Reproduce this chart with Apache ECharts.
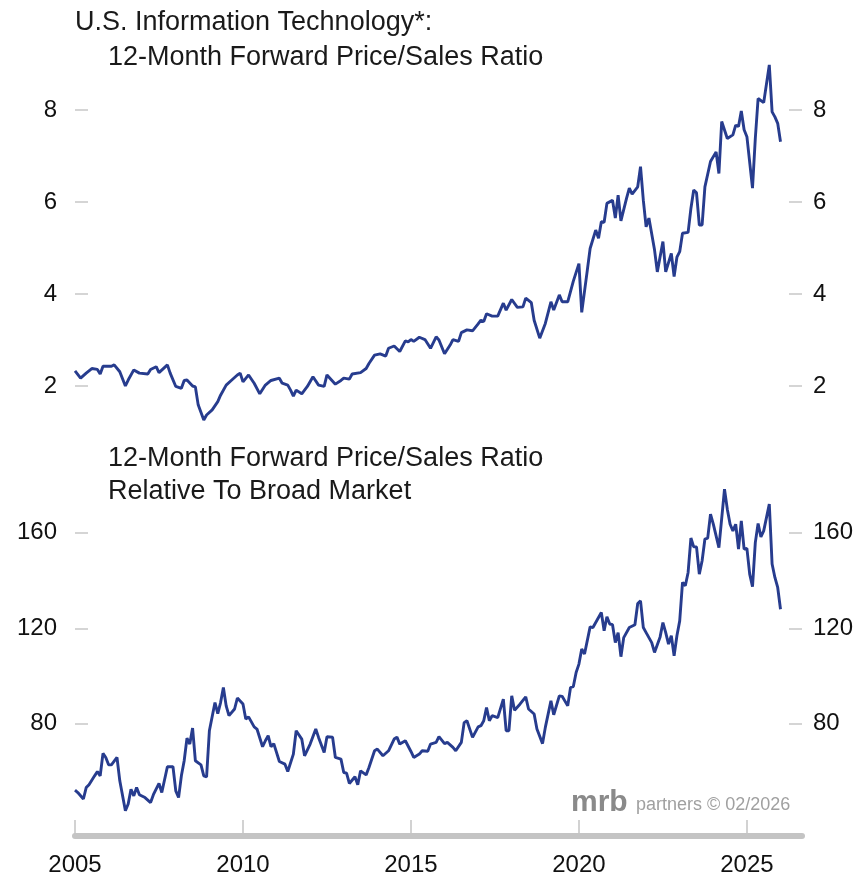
<!DOCTYPE html>
<html>
<head>
<meta charset="utf-8">
<title>U.S. Information Technology P/S</title>
<script src="https://cdn.jsdelivr.net/npm/echarts@6/dist/echarts.min.js"></script>
<style>
  html, body { margin: 0; padding: 0; background: #fff; }
  #chart { width: 863px; height: 882px; }
</style>
</head>
<body>
<div id="chart"></div>
<script>
// 12-month forward price/sales ratio, US IT sector
var topDates = [
  '2005-01','2005-03','2005-05','2005-07','2005-09','2005-10','2005-11',
  '2006-02','2006-03','2006-05','2006-07','2006-08','2006-10','2006-12',
  '2007-03','2007-04','2007-06','2007-07','2007-10','2007-11',
  '2008-01','2008-03','2008-04','2008-05','2008-07','2008-08','2008-09','2008-11','2008-12',
  '2009-02','2009-04','2009-05','2009-07','2009-09','2009-11','2009-12',
  '2010-01','2010-03','2010-05','2010-07','2010-09','2010-11',
  '2011-02','2011-03','2011-05','2011-06','2011-07','2011-08','2011-10','2011-12',
  '2012-02','2012-04','2012-06','2012-07','2012-10','2012-12',
  '2013-01','2013-03','2013-04','2013-07','2013-09','2013-10','2013-12',
  '2014-02','2014-04','2014-05','2014-07','2014-09','2014-11','2014-12',
  '2015-01','2015-02','2015-04','2015-06','2015-08','2015-10','2015-11',
  '2016-01','2016-03','2016-04','2016-06','2016-07','2016-09','2016-11',
  '2017-01','2017-02','2017-03','2017-04','2017-06','2017-08','2017-10','2017-11',
  '2018-01','2018-03','2018-05','2018-06','2018-08','2018-09','2018-11',
  '2019-01','2019-03','2019-04','2019-06','2019-07','2019-09','2019-11',
  '2020-01','2020-02','2020-04','2020-05','2020-07','2020-08','2020-09','2020-10','2020-11',
  '2021-01','2021-02','2021-03','2021-04','2021-06','2021-07','2021-08','2021-10','2021-11','2021-12',
  '2022-01','2022-02','2022-04','2022-05','2022-07','2022-08','2022-10','2022-11','2022-12',
  '2023-01','2023-02','2023-04','2023-05','2023-06','2023-07','2023-08','2023-09','2023-10','2023-12',
  '2024-02','2024-03','2024-04','2024-06','2024-08','2024-09','2024-10','2024-11','2024-12',
  '2025-01','2025-03','2025-04','2025-05','2025-07','2025-09','2025-10','2025-11','2025-12',
  '2026-01'
];
var topValues = [
  2.33,2.17,2.28,2.38,2.36,2.26,2.43,
  2.43,2.46,2.31,2.00,2.13,2.35,2.28,
  2.26,2.36,2.42,2.29,2.46,2.28,
  1.99,1.95,2.12,2.13,2.00,1.98,1.59,1.26,1.37,
  1.48,1.66,1.80,2.02,2.13,2.24,2.28,
  2.09,2.24,2.06,1.83,2.02,2.12,
  2.17,2.06,2.02,1.91,1.78,1.91,1.83,1.99,
  2.20,2.02,1.99,2.24,2.04,2.12,
  2.17,2.15,2.26,2.29,2.38,2.49,2.67,
  2.70,2.65,2.82,2.87,2.75,2.98,2.96,
  3.01,2.97,3.06,3.01,2.82,3.07,3.00,
  2.70,2.89,3.01,2.97,3.16,3.22,3.20,
  3.35,3.43,3.40,3.57,3.52,3.52,3.80,3.65,
  3.88,3.71,3.72,3.91,3.81,3.43,3.04,
  3.36,3.83,3.65,3.98,3.83,3.83,4.28,
  4.66,3.60,4.52,4.99,5.39,5.21,5.57,5.56,5.97,
  6.04,5.65,6.15,5.59,6.08,6.30,6.17,6.33,6.77,6.04,
  5.46,5.65,4.96,4.48,5.14,4.48,4.88,4.38,4.80,
  4.92,5.32,5.34,5.86,6.26,6.20,5.50,5.50,6.33,6.88,
  7.09,6.62,7.75,7.38,7.46,7.67,7.64,7.98,7.57,
  7.42,6.30,7.38,8.25,8.16,8.98,7.96,7.85,7.71,
  7.31
];

// same ratio relative to broad market
var relDates = [
  '2005-01','2005-02','2005-04','2005-05','2005-06','2005-08','2005-09','2005-10','2005-11','2005-12',
  '2006-01','2006-02','2006-04','2006-05','2006-07','2006-08','2006-09','2006-10','2006-11','2006-12',
  '2007-02','2007-04','2007-05','2007-07','2007-08','2007-10','2007-12',
  '2008-01','2008-02','2008-03','2008-04','2008-05','2008-06','2008-07','2008-08','2008-10','2008-11','2008-12',
  '2009-01','2009-03','2009-04','2009-05','2009-06','2009-07','2009-08','2009-10','2009-11',
  '2010-01','2010-02','2010-03','2010-05','2010-06','2010-08','2010-09','2010-10','2010-11','2010-12',
  '2011-02','2011-04','2011-05','2011-07','2011-08','2011-10','2011-11',
  '2012-01','2012-03','2012-04','2012-06','2012-07','2012-09','2012-10','2012-12',
  '2013-01','2013-02','2013-03','2013-05','2013-06','2013-07','2013-09','2013-10','2013-12',
  '2014-01','2014-03','2014-05','2014-07','2014-08','2014-09','2014-11',
  '2015-01','2015-02','2015-04','2015-05','2015-07','2015-08','2015-10','2015-11',
  '2016-01','2016-02','2016-04','2016-05','2016-07','2016-08','2016-09','2016-11',
  '2017-01','2017-02','2017-03','2017-04','2017-05','2017-06','2017-08','2017-10','2017-11','2017-12',
  '2018-01','2018-02','2018-04','2018-06','2018-07','2018-09','2018-10','2018-12',
  '2019-01','2019-03','2019-04','2019-06','2019-07','2019-09','2019-10','2019-11','2019-12',
  '2020-01','2020-02','2020-03','2020-05','2020-06','2020-07','2020-09','2020-10','2020-11','2020-12',
  '2021-01','2021-02','2021-03','2021-04','2021-05','2021-07','2021-09','2021-10','2021-11','2021-12',
  '2022-01','2022-03','2022-04','2022-06','2022-07','2022-08','2022-09','2022-10','2022-11','2022-12',
  '2023-01','2023-02','2023-03','2023-04','2023-05','2023-06','2023-07','2023-08','2023-09','2023-10','2023-11','2023-12',
  '2024-01','2024-03','2024-05','2024-06','2024-07','2024-08','2024-09','2024-10','2024-11','2024-12',
  '2025-01','2025-02','2025-03','2025-04','2025-05','2025-06','2025-07','2025-09','2025-10','2025-11','2025-12',
  '2026-01'
];
var relValues = [
  52.2,51.2,48.5,53.3,54.5,58.2,60.0,58.2,67.6,65.9,
  62.8,62.8,65.9,56.1,43.6,46.4,52.6,49.8,53.3,50.3,
  49.1,47.0,50.3,55.0,51.2,62.0,62.0,
  51.9,49.1,58.2,64.5,74.0,71.5,78.2,64.5,62.8,58.2,57.8,
  77.1,88.9,84.3,88.9,95.2,87.5,83.4,86.2,90.8,
  88.3,82.0,82.9,78.7,77.8,70.4,72.9,75.0,70.4,71.7,
  64.2,63.1,60.0,67.3,77.1,73.6,66.6,
  71.5,77.8,74.3,68.0,74.6,74.4,65.9,65.2,
  59.6,59.3,55.0,57.8,54.5,60.3,58.6,61.7,68.7,
  69.4,66.6,68.7,73.6,74.4,71.5,72.9,
  68.4,65.9,67.3,68.7,68.5,71.5,72.2,74.6,
  71.7,72.2,70.1,68.7,72.2,80.5,81.3,74.3,
  78.7,79.2,81.3,86.8,81.3,83.4,82.6,90.3,77.1,77.1,
  91.7,85.7,88.3,91.3,86.2,84.1,77.8,71.7,
  78.5,89.6,83.8,91.7,91.5,87.5,95.2,95.6,101.5,
  105.0,111.3,109.2,120.6,120.3,122.4,126.6,119.0,124.8,121.8,
  121.5,114.0,118.2,108.1,116.1,120.3,121.5,130.4,131.5,120.3,
  118.2,114.0,109.9,116.4,122.4,118.2,113.4,116.9,108.5,116.9,
  123.1,139.2,137.8,143.4,157.8,154.1,154.1,142.7,148.3,157.4,157.8,167.8,
  163.6,153.8,178.3,169.9,163.6,160.8,163.6,153.2,165.0,153.2,
  153.5,142.7,137.4,155.9,163.9,158.3,160.8,172.0,146.9,141.3,137.1,
  128.0
];

var xTicks = [2005, 2010, 2015, 2020, 2025];
var topTicks = [2, 4, 6, 8];
var relTicks = [80, 120, 160];

var FONT = '"Liberation Sans", Arial, sans-serif';
var LINE = '#273c8e';

function toYear(s) {
    var p = s.split('-');
    return +p[0] + (+p[1] - 1) / 12;
}
function pairs(dates, vals) {
    return dates.map(function (d, i) { return [toYear(d), vals[i]]; });
}
function plain(v) { return String(v); }

function yAxis(grid, pos, min, max, ticks, margin) {
    return {
        type: 'value', gridIndex: grid, position: pos, min: min, max: max,
        splitLine: { show: false },
        axisLine: { show: false },
        axisTick: { show: true, inside: true, length: 13, customValues: ticks,
            lineStyle: { color: '#c8c8c8', width: 1.5 } },
        axisLabel: { customValues: ticks, margin: margin, color: '#111',
            fontSize: 24, fontFamily: FONT, formatter: plain }
    };
}

function label(text, x, y, size, color, weight) {
    return {
        type: 'text', x: x, y: y, silent: true,
        style: { text: text, fill: color, textVerticalAlign: 'middle',
            font: (weight || 'normal') + ' ' + size + 'px ' + FONT }
    };
}

var chart = echarts.init(document.getElementById('chart'));
chart.setOption({
    animation: false,
    grid: [
        { left: 75, right: 61, top: 41, height: 391 },
        { left: 75, right: 61, top: 437.3, height: 398.7 }
    ],
    xAxis: [
        { type: 'value', gridIndex: 0, min: 2005, max: 2026.64, show: false },
        {
            type: 'value', gridIndex: 1, min: 2005, max: 2026.64,
            splitLine: { show: false },
            axisLine: { lineStyle: { color: '#c4c4c4', width: 6 } },
            axisTick: { inside: true, length: 16, customValues: xTicks,
                lineStyle: { color: '#c4c4c4', width: 1.5 } },
            axisLabel: { customValues: xTicks, margin: 17, color: '#111',
                fontSize: 24, fontFamily: FONT, formatter: plain }
        }
    ],
    yAxis: [
        yAxis(0, 'left', 1, 9.5, topTicks, 18),
        yAxis(0, 'right', 1, 9.5, topTicks, 11),
        yAxis(1, 'left', 33, 200, relTicks, 18),
        yAxis(1, 'right', 33, 200, relTicks, 11)
    ],
    series: [
        { type: 'line', xAxisIndex: 0, yAxisIndex: 0, data: pairs(topDates, topValues),
          showSymbol: false, lineStyle: { color: LINE, width: 2.9 } },
        { type: 'line', xAxisIndex: 1, yAxisIndex: 2, data: pairs(relDates, relValues),
          showSymbol: false, lineStyle: { color: LINE, width: 2.9 } }
    ],
    graphic: [
        label('U.S. Information Technology*:', 75, 23, 27, '#1a1a1a'),
        label('12-Month Forward Price/Sales Ratio', 108, 58, 27, '#1a1a1a'),
        label('12-Month Forward Price/Sales Ratio', 108, 459, 27, '#1a1a1a'),
        label('Relative To Broad Market', 108, 492, 27, '#1a1a1a'),
        label('mrb', 571, 803, 30, '#8a8a8a', 'bold'),
        label('partners \u00a9 02/2026', 636, 805, 18, '#a0a0a0')
    ]
});
</script>
</body>
</html>
